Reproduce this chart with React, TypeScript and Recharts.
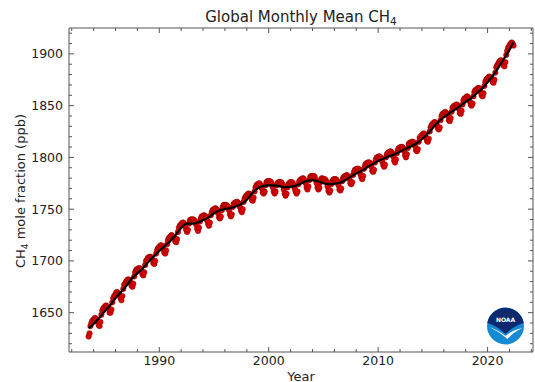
import React from 'react'
import { ComposedChart, Scatter, XAxis, YAxis } from 'recharts'

// Global monthly mean CH4 (ppb), one row per year, first row starts in July 1983
const firstYear = 1983
const firstMonth = 7
const monthlyCH4: number[][] = [
    [1627, 1630, 1637, 1640, 1642, 1643],
    [1644, 1645, 1644, 1643, 1641, 1638, 1637, 1641, 1648, 1652, 1654, 1655],
    [1656, 1657, 1656, 1656, 1654, 1650, 1650, 1653, 1660, 1664, 1666, 1667],
    [1669, 1670, 1669, 1668, 1667, 1664, 1662, 1666, 1673, 1677, 1678, 1680],
    [1681, 1682, 1682, 1681, 1679, 1676, 1675, 1678, 1685, 1689, 1691, 1692],
    [1692, 1693, 1693, 1692, 1690, 1687, 1686, 1689, 1696, 1700, 1701, 1703],
    [1703, 1704, 1704, 1703, 1701, 1698, 1697, 1700, 1707, 1710, 1712, 1713],
    [1714, 1715, 1715, 1713, 1711, 1708, 1707, 1710, 1716, 1720, 1722, 1723],
    [1724, 1725, 1724, 1723, 1722, 1719, 1718, 1721, 1728, 1732, 1734, 1735],
    [1736, 1737, 1737, 1735, 1733, 1730, 1728, 1730, 1736, 1739, 1740, 1740],
    [1740, 1740, 1739, 1738, 1735, 1731, 1729, 1732, 1738, 1741, 1743, 1743],
    [1744, 1744, 1743, 1742, 1739, 1736, 1734, 1737, 1744, 1747, 1749, 1750],
    [1750, 1751, 1750, 1749, 1746, 1742, 1741, 1743, 1749, 1752, 1754, 1754],
    [1754, 1754, 1753, 1752, 1749, 1745, 1743, 1745, 1752, 1755, 1756, 1756],
    [1757, 1757, 1756, 1755, 1752, 1749, 1747, 1750, 1757, 1760, 1762, 1763],
    [1764, 1765, 1765, 1764, 1762, 1759, 1758, 1761, 1767, 1771, 1773, 1774],
    [1774, 1775, 1774, 1772, 1770, 1766, 1765, 1767, 1773, 1776, 1777, 1777],
    [1777, 1777, 1776, 1774, 1771, 1767, 1765, 1767, 1773, 1775, 1776, 1776],
    [1776, 1776, 1775, 1773, 1769, 1765, 1763, 1765, 1771, 1774, 1775, 1776],
    [1776, 1776, 1775, 1773, 1770, 1767, 1765, 1767, 1774, 1777, 1778, 1779],
    [1779, 1780, 1779, 1777, 1775, 1771, 1769, 1772, 1778, 1781, 1782, 1782],
    [1782, 1782, 1781, 1778, 1775, 1771, 1769, 1771, 1776, 1779, 1780, 1779],
    [1779, 1779, 1778, 1776, 1772, 1768, 1766, 1768, 1774, 1777, 1778, 1779],
    [1779, 1779, 1778, 1776, 1773, 1769, 1768, 1770, 1777, 1780, 1781, 1782],
    [1782, 1783, 1782, 1781, 1779, 1775, 1774, 1776, 1783, 1786, 1788, 1788],
    [1789, 1789, 1789, 1787, 1784, 1781, 1779, 1782, 1789, 1792, 1794, 1794],
    [1795, 1795, 1795, 1793, 1791, 1787, 1786, 1788, 1795, 1798, 1800, 1800],
    [1801, 1801, 1800, 1799, 1796, 1793, 1791, 1793, 1800, 1803, 1804, 1805],
    [1805, 1806, 1805, 1803, 1801, 1797, 1795, 1798, 1804, 1807, 1809, 1809],
    [1810, 1810, 1810, 1808, 1806, 1802, 1800, 1803, 1809, 1813, 1814, 1814],
    [1815, 1815, 1815, 1813, 1811, 1807, 1806, 1808, 1815, 1819, 1820, 1821],
    [1822, 1823, 1823, 1821, 1819, 1816, 1815, 1818, 1825, 1829, 1831, 1832],
    [1833, 1834, 1834, 1833, 1831, 1828, 1827, 1829, 1836, 1840, 1842, 1842],
    [1843, 1844, 1843, 1842, 1840, 1836, 1835, 1838, 1844, 1848, 1849, 1850],
    [1850, 1851, 1851, 1849, 1847, 1843, 1842, 1845, 1851, 1855, 1857, 1857],
    [1858, 1859, 1858, 1857, 1854, 1851, 1850, 1852, 1859, 1863, 1865, 1865],
    [1866, 1867, 1867, 1866, 1863, 1860, 1859, 1862, 1869, 1873, 1875, 1876],
    [1877, 1878, 1878, 1877, 1876, 1873, 1872, 1875, 1882, 1887, 1889, 1890],
    [1892, 1893, 1894, 1893, 1891, 1889, 1888, 1892, 1899, 1903, 1906, 1907],
    [1909, 1910, 1911, 1910, 1908],
]

// Deseasonalized trend (ppb)
const trendDates = [
    1983.55, 1984.0, 1984.5, 1985.0, 1985.5, 1986.0, 1986.5, 1987.0, 1987.5, 1988.0, 1988.5,
    1989.0, 1989.5, 1990.0, 1990.5, 1991.0, 1991.5, 1992.0, 1992.5, 1993.0, 1993.5,
    1994.0, 1994.5, 1995.0, 1995.5, 1996.0, 1996.5, 1997.0, 1997.5, 1998.0, 1998.5,
    1999.0, 1999.5, 2000.0, 2000.5, 2001.0, 2001.5, 2002.0, 2002.5, 2003.0, 2003.5,
    2004.0, 2004.5, 2005.0, 2005.5, 2006.0, 2006.5, 2007.0, 2007.5, 2008.0, 2008.5,
    2009.0, 2009.5, 2010.0, 2010.5, 2011.0, 2011.5, 2012.0, 2012.5, 2013.0, 2013.5,
    2014.0, 2014.5, 2015.0, 2015.5, 2016.0, 2016.5, 2017.0, 2017.5, 2018.0, 2018.5,
    2019.0, 2019.5, 2020.0, 2020.5, 2021.0, 2021.5, 2022.0, 2022.35,
]
const trendValues = [
    1635, 1639, 1645, 1651, 1657, 1664, 1670, 1676, 1683, 1688, 1693,
    1699, 1704.5, 1709.5, 1714.5, 1719, 1725, 1732, 1736, 1736, 1737,
    1739.5, 1742, 1746, 1748.7, 1750, 1751, 1752.5, 1755, 1759, 1765.5,
    1770, 1772.5, 1773, 1773, 1772, 1771.2, 1771.5, 1772.7, 1775, 1777.3,
    1778, 1777, 1775, 1774.2, 1774.5, 1775.5, 1778, 1781.4, 1784.5, 1787.1,
    1790.5, 1793.5, 1796.5, 1798.9, 1801, 1803.1, 1805.5, 1808.2, 1810.5, 1813.4,
    1817.5, 1822.6, 1828.5, 1834.3, 1838.7, 1842.6, 1846, 1849.7, 1853.5, 1857.3,
    1861.8, 1866.6, 1872.5, 1879.1, 1887, 1895.3, 1904, 1911,
]

const xTicks = [1982, 1984, 1986, 1988, 1990, 1992, 1994, 1996, 1998, 2000, 2002, 2004, 2006, 2008, 2010, 2012, 2014, 2016, 2018, 2020, 2022, 2024]
const yTicks = [1620, 1630, 1640, 1650, 1660, 1670, 1680, 1690, 1700, 1710, 1720, 1730, 1740, 1750, 1760, 1770, 1780, 1790, 1800, 1810, 1820, 1830, 1840, 1850, 1860, 1870, 1880, 1890, 1900, 1910, 1920]

const FONT = '"DejaVu Sans", sans-serif'
const AXIS = '#555'
const X_DOMAIN = [1981.75, 2024.15]
const Y_DOMAIN = [1612, 1925]

// decimal date at the middle of each month
const monthlyData = monthlyCH4.flatMap((row, i) =>
    row.map((v, j) => {
        const month = (i === 0 ? firstMonth : 1) + j
        return { date: firstYear + i + (month - 0.5) / 12, ch4: v }
    })
)
const trendData = trendDates.map((d, i) => ({ date: d, ch4: trendValues[i] }))

const XTick = (props: any) => {
    const { x, y, payload, side } = props
    const major = payload.value % 10 === 0
    const len = major ? 5 : 3
    const dir = side === 'bottom' ? -1 : 1
    return (
        <g>
            <line x1={x} x2={x} y1={y} y2={y + dir * len} stroke={AXIS} strokeWidth={1} />
            {side === 'bottom' && major && (
                <text x={x} y={y + 13} textAnchor="middle" fontSize={12.5} fontFamily={FONT} fill="#222">
                    {payload.value}
                </text>
            )}
        </g>
    )
}

const YTick = (props: any) => {
    const { x, y, payload, side } = props
    const major = payload.value % 50 === 0
    const len = major ? 5 : 3
    const dir = side === 'left' ? 1 : -1
    return (
        <g>
            <line x1={x} x2={x + dir * len} y1={y} y2={y} stroke={AXIS} strokeWidth={1} />
            {side === 'left' && major && (
                <text x={x - 6} y={y + 4.5} textAnchor="end" fontSize={12.5} fontFamily={FONT} fill="#222">
                    {payload.value}
                </text>
            )}
        </g>
    )
}

const Dot = (props: any) => {
    const { cx, cy } = props
    if (cx == null || cy == null) return <g />
    return <circle cx={cx} cy={cy} r={2.7} fill="#d80000" stroke="#990000" strokeWidth={0.6} />
}

const NoDot = () => <g />

const NoaaLogo = () => (
    <g transform="translate(505.5,326)">
        <circle r={18.5} fill="#1589d4" />
        <path d="M -18.2 -3 A 18.5 18.5 0 0 1 18.2 -3 Q 8 0 0 8 Q -8 0 -18.2 -3 Z" fill="#0b2a6f" />
        <path d="M -16 1 Q -6 5 0 10 Q 7 4 17 2 Q 8 6 2 13 Q -6 6 -16 1 Z" fill="#fff" />
        <text x={0} y={-4} textAnchor="middle" fontSize={6} fontWeight="bold" fontFamily={FONT} fill="#fff">
            NOAA
        </text>
    </g>
)

export default function App() {
    return (
        <div style={{ position: 'absolute', left: 0, top: 0, width: 535, height: 382, background: '#fff' }}>
            <ComposedChart width={535} height={382} margin={{ top: 27, right: 1, bottom: 29, left: 68 }}>
                <XAxis
                    xAxisId="bottom"
                    orientation="bottom"
                    type="number"
                    dataKey="date"
                    domain={X_DOMAIN}
                    ticks={xTicks}
                    interval={0}
                    allowDataOverflow
                    height={1}
                    tickSize={0}
                    tickMargin={0}
                    tickLine={false}
                    axisLine={{ stroke: AXIS }}
                    tick={<XTick side="bottom" />}
                />
                <XAxis
                    xAxisId="top"
                    orientation="top"
                    type="number"
                    dataKey="date"
                    domain={X_DOMAIN}
                    ticks={xTicks}
                    interval={0}
                    allowDataOverflow
                    height={1}
                    tickSize={0}
                    tickMargin={0}
                    tickLine={false}
                    axisLine={{ stroke: AXIS }}
                    tick={<XTick side="top" />}
                />
                <YAxis
                    yAxisId="left"
                    orientation="left"
                    type="number"
                    dataKey="ch4"
                    domain={Y_DOMAIN}
                    ticks={yTicks}
                    interval={0}
                    allowDataOverflow
                    width={1}
                    tickSize={0}
                    tickMargin={0}
                    tickLine={false}
                    axisLine={{ stroke: AXIS }}
                    tick={<YTick side="left" />}
                />
                <YAxis
                    yAxisId="right"
                    orientation="right"
                    type="number"
                    dataKey="ch4"
                    domain={Y_DOMAIN}
                    ticks={yTicks}
                    interval={0}
                    allowDataOverflow
                    width={1}
                    tickSize={0}
                    tickMargin={0}
                    tickLine={false}
                    axisLine={{ stroke: AXIS }}
                    tick={<YTick side="right" />}
                />
                <Scatter
                    xAxisId="bottom"
                    yAxisId="left"
                    data={monthlyData}
                    dataKey="ch4"
                    shape={<Dot />}
                    isAnimationActive={false}
                />
                <Scatter
                    xAxisId="top"
                    yAxisId="right"
                    data={trendData}
                    dataKey="ch4"
                    shape={<NoDot />}
                    line={{ stroke: '#000', strokeWidth: 2.2 }}
                    lineType="joint"
                    lineJointType="monotoneX"
                    isAnimationActive={false}
                />
            </ComposedChart>
            <svg width={535} height={382} style={{ position: 'absolute', left: 0, top: 0, pointerEvents: 'none' }}>
                <text x={301} y={21.5} textAnchor="middle" fontSize={15} fontFamily={FONT} fill="#222">
                    Global Monthly Mean CH<tspan fontSize={10.5} dy={3}>4</tspan>
                </text>
                <text
                    transform="translate(25,191) rotate(-90)"
                    textAnchor="middle"
                    fontSize={13}
                    fontFamily={FONT}
                    fill="#222"
                >
                    CH<tspan fontSize={9} dy={3}>4</tspan>
                    <tspan dy={-3}> mole fraction (ppb)</tspan>
                </text>
                <text x={301} y={380.5} textAnchor="middle" fontSize={13} fontFamily={FONT} fill="#222">
                    Year
                </text>
                <NoaaLogo />
            </svg>
        </div>
    )
}
